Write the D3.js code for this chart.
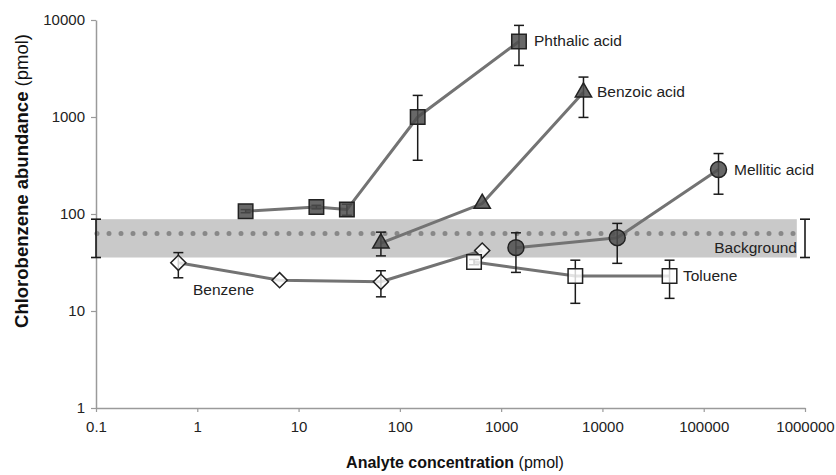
<!DOCTYPE html>
<html>
<head>
<meta charset="utf-8">
<script src="https://cdn.jsdelivr.net/npm/d3@7/dist/d3.min.js"></script>
<style>
  html, body { margin: 0; padding: 0; background: #fff; }
  svg { display: block; font-family: "Liberation Sans", Arial, Helvetica, sans-serif; }
</style>
</head>
<body>
<svg id="chart" width="836" height="475"></svg>
<script>
// Analyte concentration (pmol) and chlorobenzene abundance (pmol), with error bar limits
const phthalicX = [3, 15, 30, 150, 1500];
const phthalicY = [107, 118, 111, 1000, 6000];
const phthalicLo = [103, 113, 97, 358, 3400];
const phthalicHi = [111, 123, 126, 1670, 8800];

const benzoicX = [65, 650, 6500];
const benzoicY = [50, 128, 1800];
const benzoicLo = [37, 128, 990];
const benzoicHi = [65, 128, 2580];

const melliticX = [1400, 14000, 140000];
const melliticY = [45, 57, 287];
const melliticLo = [25, 31, 160];
const melliticHi = [64, 80, 420];

const benzeneX = [0.65, 6.5, 65, 650];
const benzeneY = [31.4, 20.8, 20, 42];
const benzeneLo = [22, 20.8, 14, 42];
const benzeneHi = [40, 20.8, 26, 42];

const tolueneX = [540, 5400, 46000];
const tolueneY = [32, 23, 23];
const tolueneLo = [30, 12, 13.5];
const tolueneHi = [34, 33.4, 33.4];

// Background chlorobenzene level: mean and range
const backgroundMean = 63;
const backgroundLo = 35.6;
const backgroundHi = 88.4;
const backgroundSpan = [0.1, 830000];

const xTicks = [0.1, 1, 10, 100, 1000, 10000, 100000, 1000000];
const yTicks = [1, 10, 100, 1000, 10000];

const svg = d3.select("#chart");

const x = d3.scaleLog().domain([0.1, 1000000]).range([96, 805]);
const y = d3.scaleLog().domain([1, 10000]).range([408, 20]);

const lineColor = "#737373";
const axisColor = "#9a9a9a";
const barColor = "#1a1a1a";

// Background band
svg.append("rect")
  .attr("x", x(backgroundSpan[0]))
  .attr("y", y(backgroundHi))
  .attr("width", x(backgroundSpan[1]) - x(backgroundSpan[0]))
  .attr("height", y(backgroundLo) - y(backgroundHi))
  .attr("fill", "#c9c9c9");

svg.append("line")
  .attr("x1", x(backgroundSpan[0]) + 1)
  .attr("x2", x(backgroundSpan[1]) - 3)
  .attr("y1", y(backgroundMean))
  .attr("y2", y(backgroundMean))
  .attr("stroke", "#888")
  .attr("stroke-width", 5)
  .attr("stroke-linecap", "round")
  .attr("stroke-dasharray", "0 12");

// Axes
const yAxis = d3.axisLeft(y)
  .tickValues(yTicks)
  .tickFormat(d3.format("d"))
  .tickSize(5)
  .tickSizeOuter(0)
  .tickPadding(6);

const xAxis = d3.axisBottom(x)
  .tickValues(xTicks)
  .tickFormat(d => d < 1 ? "0.1" : d3.format("d")(d))
  .tickSize(4)
  .tickSizeOuter(0)
  .tickPadding(9);

const gy = svg.append("g").attr("transform", `translate(${x(0.1)},0)`).call(yAxis);
const gx = svg.append("g").attr("transform", `translate(0,${y(1)})`).call(xAxis);

[gx, gy].forEach(g => {
  g.select(".domain").attr("stroke", axisColor).attr("stroke-width", 1.5);
  g.selectAll(".tick line").attr("stroke", axisColor).attr("stroke-width", 1.2);
  g.selectAll(".tick text")
    .attr("fill", "#222")
    .style("font-family", "'Liberation Sans', Arial, sans-serif")
    .style("font-size", "15px");
});

// Background range error bars at both ends
function errorBar(g, px, lo, hi, cap) {
  g.append("line").attr("x1", px).attr("x2", px).attr("y1", y(lo)).attr("y2", y(hi));
  g.append("line").attr("x1", px - cap).attr("x2", px + cap).attr("y1", y(lo)).attr("y2", y(lo));
  g.append("line").attr("x1", px - cap).attr("x2", px + cap).attr("y1", y(hi)).attr("y2", y(hi));
}

const bgBars = svg.append("g").attr("stroke", barColor).attr("stroke-width", 1.6);
errorBar(bgBars, x(0.1), backgroundLo, backgroundHi, 5);
errorBar(bgBars, x(1000000), backgroundLo, backgroundHi, 5);

// Series
const series = [
  { name: "Phthalic acid", xs: phthalicX, ys: phthalicY, lo: phthalicLo, hi: phthalicHi,
    shape: "square", fill: "#4d4d4d", fillOpacity: 0.85 },
  { name: "Benzoic acid", xs: benzoicX, ys: benzoicY, lo: benzoicLo, hi: benzoicHi,
    shape: "triangle", fill: "#4d4d4d", fillOpacity: 0.85 },
  { name: "Mellitic acid", xs: melliticX, ys: melliticY, lo: melliticLo, hi: melliticHi,
    shape: "circle", fill: "#4d4d4d", fillOpacity: 0.85 },
  { name: "Benzene", xs: benzeneX, ys: benzeneY, lo: benzeneLo, hi: benzeneHi,
    shape: "diamond", fill: "#ffffff", fillOpacity: 0.8 },
  { name: "Toluene", xs: tolueneX, ys: tolueneY, lo: tolueneLo, hi: tolueneHi,
    shape: "square", fill: "#ffffff", fillOpacity: 0.8 }
];

const line = d3.line().x(d => x(d[0])).y(d => y(d[1]));

const symbols = {
  square: d3.symbol().type(d3.symbolSquare).size(210)(),
  triangle: d3.symbol().type(d3.symbolTriangle).size(115)(),
  circle: d3.symbol().type(d3.symbolCircle).size(200)(),
  diamond: d3.symbol().type(d3.symbolSquare).size(115)()
};

series.forEach(s => {
  const pts = s.xs.map((v, i) => [v, s.ys[i]]);
  svg.append("path")
    .datum(pts)
    .attr("d", line)
    .attr("fill", "none")
    .attr("stroke", lineColor)
    .attr("stroke-width", 3)
    .attr("stroke-linejoin", "round");
});

series.forEach(s => {
  const g = svg.append("g").attr("stroke", barColor).attr("stroke-width", 1.5);
  s.xs.forEach((v, i) => {
    if (s.hi[i] > s.lo[i]) errorBar(g, x(v), s.lo[i], s.hi[i], 5);
  });
});

series.forEach(s => {
  svg.append("g")
    .selectAll("path")
    .data(s.xs.map((v, i) => [v, s.ys[i]]))
    .join("path")
    .attr("d", symbols[s.shape])
    .attr("transform", d => `translate(${x(d[0])},${y(d[1])})` + (s.shape === "diamond" ? " rotate(45)" : ""))
    .attr("fill", s.fill)
    .attr("fill-opacity", s.fillOpacity)
    .attr("stroke", "#222")
    .attr("stroke-width", 1.5);
});

// Series labels
const labels = [
  { text: "Phthalic acid", x: 534, y: 46, anchor: "start" },
  { text: "Benzoic acid", x: 597, y: 97, anchor: "start" },
  { text: "Mellitic acid", x: 734, y: 175, anchor: "start" },
  { text: "Background", x: 797, y: 253, anchor: "end" },
  { text: "Toluene", x: 683, y: 281, anchor: "start" },
  { text: "Benzene", x: 193, y: 295, anchor: "start" }
];

svg.append("g")
  .selectAll("text")
  .data(labels)
  .join("text")
  .attr("x", d => d.x)
  .attr("y", d => d.y)
  .attr("text-anchor", d => d.anchor)
  .attr("fill", "#222")
  .style("font-size", "15.5px")
  .text(d => d.text);

// Axis titles
const xTitle = svg.append("text")
  .attr("x", 455)
  .attr("y", 468)
  .attr("text-anchor", "middle")
  .attr("fill", "#111")
  .style("font-size", "16px");
xTitle.append("tspan").attr("font-weight", "bold").text("Analyte concentration");
xTitle.append("tspan").text(" (pmol)");

const yTitle = svg.append("text")
  .attr("transform", "translate(28,181) rotate(-90)")
  .attr("text-anchor", "middle")
  .attr("fill", "#111")
  .style("font-size", "18.5px");
yTitle.append("tspan").attr("font-weight", "bold").text("Chlorobenzene abundance");
yTitle.append("tspan").text(" (pmol)");
</script>
</body>
</html>
